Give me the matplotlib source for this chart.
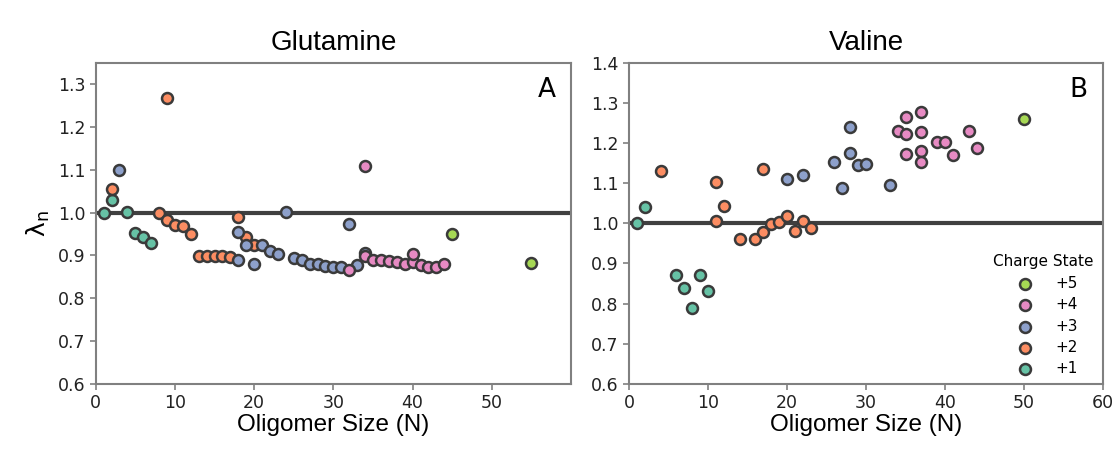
import matplotlib
matplotlib.use('Agg')
import matplotlib.pyplot as plt

# ======= DATA =================================
charge_labels = ['+1', '+2', '+3', '+4', '+5']
charge_colors = ['#66c2a5', '#fc8d62', '#8da0cb', '#e78ac3', '#a6d854']

# Glutamine (panel A): oligomer size -> lambda_n, per charge state
gln_x = {
    '+1': [1, 2, 4, 5, 6, 7],
    '+2': [2, 8, 9, 9, 10, 11, 12, 13, 14, 15, 16, 17, 18, 19, 20],
    '+3': [3, 18, 18, 19, 20, 21, 22, 23, 24, 25, 26, 27, 28, 29, 30, 31, 32, 33, 34],
    '+4': [32, 34, 34, 35, 36, 37, 38, 39, 40, 40, 41, 42, 43, 44],
    '+5': [45, 55],
}
gln_y = {
    '+1': [1.000, 1.030, 1.001, 0.953, 0.943, 0.928],
    '+2': [1.056, 1.000, 1.267, 0.982, 0.972, 0.968, 0.949, 0.898, 0.899, 0.898,
           0.898, 0.897, 0.989, 0.944, 0.924],
    '+3': [1.099, 0.954, 0.889, 0.924, 0.879, 0.924, 0.911, 0.903, 1.001, 0.893,
           0.889, 0.881, 0.880, 0.875, 0.874, 0.874, 0.974, 0.877, 0.905],
    '+4': [0.866, 1.109, 0.898, 0.890, 0.889, 0.886, 0.885, 0.879, 0.884, 0.904,
           0.877, 0.872, 0.872, 0.881],
    '+5': [0.951, 0.883],
}

# Valine (panel B)
val_x = {
    '+1': [1, 2, 6, 7, 8, 9, 10],
    '+2': [4, 11, 11, 12, 14, 16, 17, 17, 18, 19, 20, 21, 22, 23],
    '+3': [20, 22, 26, 27, 28, 28, 29, 30, 33],
    '+4': [34, 35, 35, 35, 37, 37, 37, 37, 39, 40, 41, 43, 44],
    '+5': [50],
}
val_y = {
    '+1': [1.000, 1.041, 0.872, 0.839, 0.788, 0.872, 0.831],
    '+2': [1.131, 1.102, 1.005, 1.044, 0.962, 0.961, 0.978, 1.135, 0.998, 1.004,
           1.018, 0.982, 1.007, 0.989],
    '+3': [1.110, 1.120, 1.152, 1.087, 1.241, 1.174, 1.145, 1.147, 1.095],
    '+4': [1.230, 1.264, 1.222, 1.173, 1.278, 1.227, 1.181, 1.152, 1.202, 1.202,
           1.170, 1.230, 1.188],
    '+5': [1.259],
}
# ==============================================

SANS = ['Liberation Sans', 'DejaVu Sans']
EDGE = '#3a3a3a'
SPINE = '#808080'

fig = plt.figure(figsize=(11.17, 4.49), dpi=100)
axA = fig.add_axes([0.0857, 0.1448, 0.4255, 0.7156])
axB = fig.add_axes([0.5631, 0.1448, 0.4244, 0.7156])


def draw_panel(ax, xs, ys, title, letter, ylim, yticks, xticks):
    ax.axhline(1.0, color='#404040', lw=3, zorder=1)
    for lab, col in zip(charge_labels, charge_colors):
        ax.scatter(xs[lab], ys[lab], s=62, color=col, edgecolor=EDGE,
                   linewidth=1.8, zorder=3, label=lab)
    ax.set_xlim(0, 60)
    ax.set_ylim(*ylim)
    ax.set_xticks(xticks)
    ax.set_yticks(yticks)
    ax.tick_params(labelsize=12.5, color=SPINE, width=1.2, length=4,
                   labelcolor='#222222')
    for sp in ax.spines.values():
        sp.set_color(SPINE)
        sp.set_linewidth(1.5)
    ax.set_title(title, fontsize=20, family=SANS, pad=9)
    ax.set_xlabel('Oligomer Size (N)', fontsize=17.5, family=SANS, labelpad=1)
    ax.text(0.968, 0.955, letter, transform=ax.transAxes, fontsize=19,
            ha='right', va='top')


draw_panel(axA, gln_x, gln_y, 'Glutamine', 'A', (0.6, 1.35),
           [0.6, 0.7, 0.8, 0.9, 1.0, 1.1, 1.2, 1.3], [0, 10, 20, 30, 40, 50])
draw_panel(axB, val_x, val_y, 'Valine', 'B', (0.6, 1.4),
           [0.6, 0.7, 0.8, 0.9, 1.0, 1.1, 1.2, 1.3, 1.4],
           [0, 10, 20, 30, 40, 50, 60])

axA.set_ylabel(r'$\mathregular{\lambda_n}$', fontsize=18, labelpad=4)

# legend: highest charge on top
handles, labels = axB.get_legend_handles_labels()
leg = axB.legend(handles[::-1], labels[::-1], title='Charge State',
                 loc='lower right', frameon=False, fontsize=11,
                 title_fontsize=11, handletextpad=1.0, labelspacing=0.42,
                 borderaxespad=0.2, bbox_to_anchor=(1.0, -0.005))

fig.savefig('out.png', dpi=100)
